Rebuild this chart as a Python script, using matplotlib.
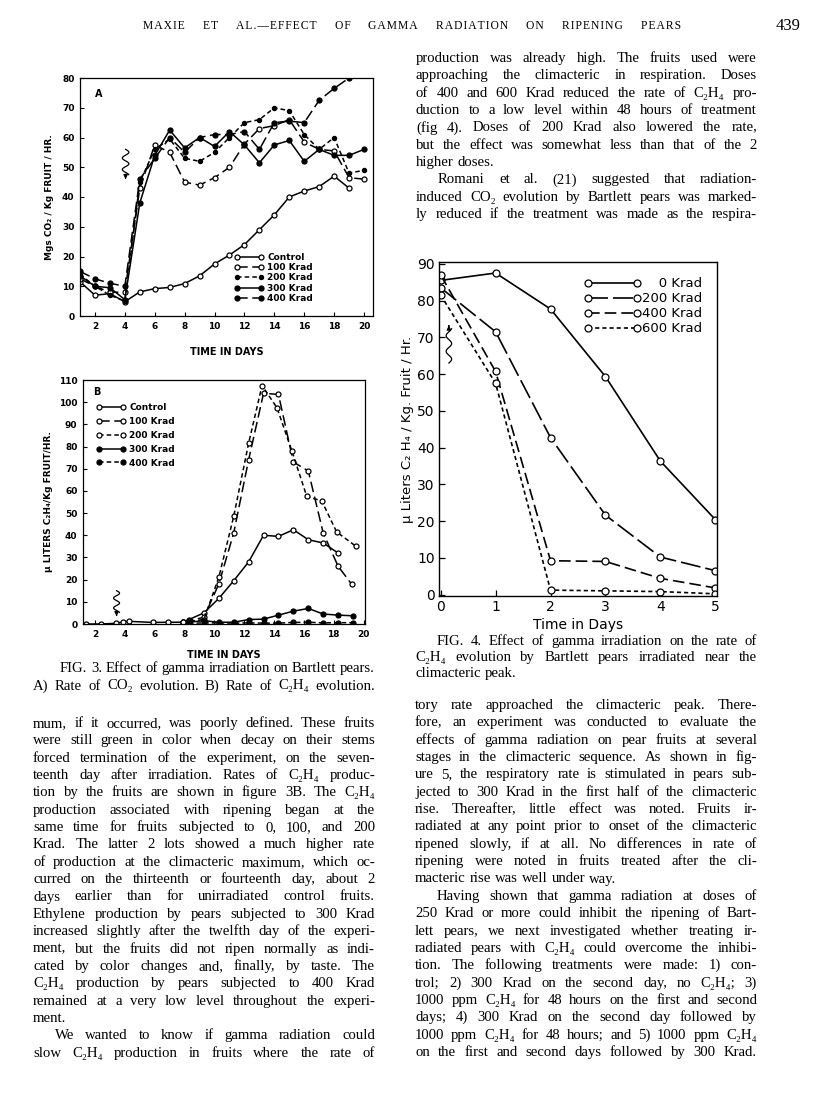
import numpy as np
import matplotlib
matplotlib.use('Agg')
import matplotlib.pyplot as plt

# ---- data ----
# Fig 3A: CO2 evolution, days 1..20
days_a = list(range(1, 21))
ctrl_a = [11.5, 7, 7.5, 4.8, 8.1, 9.2, 9.6, 10.9, 13.5, 17.5, 20.5, 24, 29, 34, 40, 42, 43.5, 47, 43]
k100_a = [12.5, 10, 8, 8, 43, 57.5, 55, 45, 44, 46.5, 50, 57.8, 63, 64, 66, 58.5, 56, 55.5, 46.5, 46]
k200_a = [14, 10, 7, 5, 45, 56, 59.5, 53, 52, 55, 60, 65, 66, 70, 69, 61, 56, 60, 48, 49]
k300_a = [13.5, 10, 9.5, 5.5, 38, 54, 62.5, 56.5, 60, 57, 62, 57.5, 51.5, 57.5, 59, 52, 56, 54, 54, 56]
k400_a = [15, 12.5, 11, 10, 46, 53, 60, 55, 60, 61, 61, 62, 56, 65, 65.5, 65, 72.5, 76.5, 80]

# Fig 3B: C2H4 evolution
days_ctrl_b = [1.4, 2.4, 3.4, 3.9, 4.3, 5.9, 6.9, 7.9, 8.3, 9.3, 10.3, 11.3, 12.3, 13.3, 14.3, 15.3, 16.3, 17.3, 18.3]
ctrl_b = [0, 0, 0.3, 1.0, 1.2, 0.7, 0.8, 0.8, 2.0, 5.0, 11.5, 19.5, 28, 40, 39.5, 42.5, 38, 36.5, 32]
days_100_b = [7.9, 8.3, 9.3, 10.3, 11.3, 12.3, 13.3, 14.3, 15.3, 16.3, 17.3, 18.3, 19.2]
k100_b = [0.8, 1.5, 3, 18, 41, 74, 104, 103.5, 73, 69, 41, 26, 18]
days_200_b = [7.9, 8.3, 9.3, 10.3, 11.3, 12.3, 13.2, 14.2, 15.2, 16.2, 17.2, 18.2, 19.5]
k200_b = [0.8, 1.2, 2, 21, 48.5, 81.5, 107.5, 97.5, 78, 57.5, 55.5, 41.5, 35]
days_hi_b = [8.3, 9.3, 10.3, 11.3, 12.3, 13.3, 14.3, 15.3, 16.3, 17.3, 18.3, 19.3]
k300_b = [0.8, 1.5, 0.8, 0.8, 2.0, 2.2, 4.0, 5.8, 7.0, 4.5, 4.0, 3.7]
k400_b = [0.3, 0.5, 0.5, 0.4, 0.5, 0.4, 0.4, 0.7, 0.8, 0.5, 0.6, 0.6]

# Fig 4
days_4 = [0, 1, 2, 3, 4, 5]
k0_4 = [85.5, 87.5, 77.7, 59.3, 36.3, 20.4]
k200_4 = [83.5, 71.5, 42.7, 21.6, 10.2, 6.5]
k400_4 = [87, 60.7, 9.2, 9.0, 4.4, 1.8]
k600_4 = [81.5, 57.5, 1.2, 1.0, 0.8, 0.2]

W, H = 816, 1109
fig = plt.figure(figsize=(W / 100, H / 100), dpi=100)
rend = fig.canvas.get_renderer()

SANS = ['DejaVu Sans']
SERIF = ['Liberation Serif', 'DejaVu Serif']
BODY = 10.6


def px_axes(x0, y0, x1, y1):
    return fig.add_axes([x0 / W, 1 - y1 / H, (x1 - x0) / W, (y1 - y0) / H])


def squiggle(ax, x0, y_start, y_end, amp):
    t = np.linspace(0, 1, 80)
    ys = y_start + (y_end - y_start) * t * 0.85
    xs = x0 + amp * np.sin(2 * np.pi * 2.2 * t)
    ax.plot(xs, ys, color='k', lw=0.9)
    ax.annotate('', xy=(x0, y_end), xytext=(x0, ys[-1]),
                arrowprops=dict(arrowstyle='-|>', color='k', lw=0.9, mutation_scale=6))


def series(ax, x, y, ls, filled, label, ms=3.6, lw=1.1):
    ax.plot(x, y, linestyle=ls, color='k', lw=lw, marker='o', ms=ms,
            mfc='k' if filled else 'white', mec='k', mew=0.9, label=label)


LONG = (0, (7, 3))
SHORT = (0, (3, 2))

# ---------------- Fig 3A ----------------
axA = px_axes(80, 78, 373, 316)
series(axA, days_a[:19], ctrl_a, '-', False, 'Control')
series(axA, days_a, k100_a, LONG, False, '100 Krad')
series(axA, days_a, k200_a, SHORT, True, '200 Krad', ms=3)
series(axA, days_a, k300_a, '-', True, '300 Krad')
series(axA, days_a[:19], k400_a, LONG, True, '400 Krad')
axA.set_xlim(1, 20.6)
axA.set_ylim(0, 80)
axA.set_xticks(range(2, 21, 2))
axA.set_yticks(range(0, 81, 10))
axA.text(0.05, 0.92, 'A', transform=axA.transAxes, fontsize=7, fontweight='bold', family=SANS)
squiggle(axA, 4.05, 56, 46, 0.22)
axA.set_xlabel('TIME IN DAYS', fontsize=7, fontweight='bold', family=SANS, labelpad=12)
axA.set_ylabel('Mgs CO₂ / Kg FRUIT / HR.', fontsize=6.5, fontweight='bold', family=SANS, labelpad=6)
axA.legend(loc='lower left', bbox_to_anchor=(0.5, 0.02), numpoints=2, frameon=False,
           handlelength=3.2, labelspacing=0.15, handletextpad=0.4,
           prop=dict(size=6.5, weight='bold', family=SANS))

# ---------------- Fig 3B ----------------
axB = px_axes(83, 380, 365, 624)
series(axB, days_ctrl_b, ctrl_b, '-', False, 'Control')
series(axB, days_100_b, k100_b, LONG, False, '100 Krad')
series(axB, days_200_b, k200_b, SHORT, False, '200 Krad')
series(axB, days_hi_b, k300_b, '-', True, '300 Krad')
series(axB, days_hi_b, k400_b, SHORT, True, '400 Krad')
axB.set_xlim(1.2, 20.1)
axB.set_ylim(0, 110)
axB.set_xticks(range(2, 21, 2))
axB.set_yticks(range(0, 111, 10))
axB.text(0.035, 0.94, 'B', transform=axB.transAxes, fontsize=7, fontweight='bold', family=SANS)
squiggle(axB, 3.45, 15, 3.5, 0.2)
axB.set_xlabel('TIME IN DAYS', fontsize=7, fontweight='bold', family=SANS, labelpad=8)
axB.set_ylabel('μ LITERS C₂H₄/Kg FRUIT/HR.', fontsize=6.5, fontweight='bold', family=SANS, labelpad=4)
axB.legend(loc='upper left', bbox_to_anchor=(0.02, 0.94), numpoints=2, frameon=False,
           handlelength=3.2, labelspacing=0.55, handletextpad=0.4,
           prop=dict(size=6.5, weight='bold', family=SANS))

for ax in (axA, axB):
    ax.tick_params(direction='in', length=3, width=0.8, labelsize=6.5, pad=4)
    for lab in ax.get_xticklabels() + ax.get_yticklabels():
        lab.set_fontweight('bold')
        lab.set_family(SANS)
    for sp in ax.spines.values():
        sp.set_linewidth(0.9)

# ---------------- Fig 4 ----------------
ax4 = px_axes(439, 262, 717, 596)
series(ax4, days_4, k0_4, '-', False, '\u2007\u20070 Krad', ms=5, lw=1.2)
series(ax4, days_4, k200_4, (0, (12, 3)), False, '200 Krad', ms=5, lw=1.2)
series(ax4, days_4, k400_4, (0, (7, 3)), False, '400 Krad', ms=5, lw=1.2)
series(ax4, days_4, k600_4, (0, (2.5, 1.8)), False, '600 Krad', ms=5, lw=1.2)
ax4.set_xlim(-0.03, 5.03)
ax4.set_ylim(-0.4, 90.5)
ax4.set_xticks(range(0, 6))
ax4.set_yticks(range(0, 91, 10))
ax4.tick_params(direction='in', length=4, width=0.9, labelsize=10, pad=3)
squiggle(ax4, 0.15, 63, 74, 0.05)
ax4.set_xlabel('Time in Days', fontsize=10, family=SANS, labelpad=3)
ax4.set_ylabel('μ Liters C₂ H₄ / Kg. Fruit / Hr.', fontsize=9.5, family=SANS, labelpad=2)
ax4.legend(loc='upper right', bbox_to_anchor=(0.99, 0.99), numpoints=2, frameon=False,
           handlelength=4.3, labelspacing=0.15, handletextpad=0.1,
           prop=dict(size=9.5, family=SANS))
for sp in ax4.spines.values():
    sp.set_linewidth(1.0)


# ---------------- page text ----------------
def text_line(s, x0, x1, y, justify=True, size=BODY):
    words = [w for w in s.split(' ') if w]
    objs = [fig.text(0, 0, w, fontsize=size, family=SERIF, va='baseline', ha='left') for w in words]
    widths = [o.get_window_extent(rend).width for o in objs]
    if justify and len(words) > 1:
        gap = max((x1 - x0 - sum(widths)) / (len(words) - 1), 1.5)
    else:
        gap = size * 100 / 72 * 0.27
    x = x0
    for o, w in zip(objs, widths):
        o.set_position((x / W, 1 - y / H))
        x += w + gap


def block(lines, x0, x1, y0, dy, size=BODY, indent=22):
    for i, s in enumerate(lines):
        ragged = s.endswith('|')
        s = s.rstrip('|')
        start = x0 + indent if s.startswith('>') else x0
        text_line(s.lstrip('>'), start, x1, y0 + i * dy, justify=not ragged, size=size)


header = 'MAXIE ET AL.—EFFECT OF GAMMA RADIATION ON RIPENING PEARS'
header = ' '.join('\u200a'.join(w) for w in header.split(' '))
text_line(header, 143, 681, 29, size=8.4)
fig.text(800 / W, 1 - 30 / H, '439', fontsize=12, family=SERIF, ha='right', va='baseline')

right_top = [
    'production was already high.  The fruits used were',
    'approaching the climacteric in respiration.  Doses',
    'of 400 and 600 Krad reduced the rate of C₂H₄ pro-',
    'duction to a low level within 48 hours of treatment',
    '(fig 4).  Doses of 200 Krad also lowered the rate,',
    'but the effect was somewhat less than that of the 2',
    'higher doses.|',
    '>Romani et al. (21) suggested that radiation-',
    'induced CO₂ evolution by Bartlett pears was marked-',
    'ly reduced if the treatment was made as the respira-',
]
block(right_top, 416, 757, 62, 17.35)

cap3 = [
    '>FIG. 3.  Effect of gamma irradiation on Bartlett pears.',
    'A)  Rate of CO₂ evolution.   B)  Rate of C₂H₄ evolution.',
]
block(cap3, 33, 375, 672, 17.5, indent=27)

cap4 = [
    '>FIG. 4.  Effect of gamma irradiation on the rate of',
    'C₂H₄ evolution by Bartlett pears irradiated near the',
    'climacteric peak.|',
]
block(cap4, 415, 757, 645, 16.0)

left_col = [
    'mum, if it occurred, was poorly defined.  These fruits',
    'were still green in color when decay on their stems',
    'forced termination of the experiment, on the seven-',
    'teenth day after irradiation.  Rates of C₂H₄ produc-',
    'tion by the fruits are shown in figure 3B.  The C₂H₄',
    'production associated with ripening began at the',
    'same time for fruits subjected to 0, 100, and 200',
    'Krad.  The latter 2 lots showed a much higher rate',
    'of production at the climacteric maximum, which oc-',
    'curred on the thirteenth or fourteenth day, about 2',
    'days earlier than for unirradiated control fruits.',
    'Ethylene production by pears subjected to 300 Krad',
    'increased slightly after the twelfth day of the experi-',
    'ment, but the fruits did not ripen normally as indi-',
    'cated by color changes and, finally, by taste.  The',
    'C₂H₄ production by pears subjected to 400 Krad',
    'remained at a very low level throughout the experi-',
    'ment.|',
    '>We wanted to know if gamma radiation could',
    'slow C₂H₄ production in fruits where the rate of',
]
block(left_col, 33, 375, 727, 17.35)

right_low = [
    'tory rate approached the climacteric peak.  There-',
    'fore, an experiment was conducted to evaluate the',
    'effects of gamma radiation on pear fruits at several',
    'stages in the climacteric sequence.  As shown in fig-',
    'ure 5, the respiratory rate is stimulated in pears sub-',
    'jected to 300 Krad in the first half of the climacteric',
    'rise.  Thereafter, little effect was noted.  Fruits ir-',
    'radiated at any point prior to onset of the climacteric',
    'ripened slowly, if at all.  No differences in rate of',
    'ripening were noted in fruits treated after the cli-',
    'macteric rise was well under way.|',
    '>Having shown that gamma radiation at doses of',
    '250 Krad or more could inhibit the ripening of Bart-',
    'lett pears, we next investigated whether treating ir-',
    'radiated pears with C₂H₄ could overcome the inhibi-',
    'tion.  The following treatments were made:  1)  con-',
    'trol;  2)  300 Krad on the second day, no C₂H₄;  3)',
    '1000 ppm C₂H₄ for 48 hours on the first and second',
    'days;  4)  300 Krad on the second day followed by',
    '1000 ppm C₂H₄ for 48 hours;  and 5)  1000 ppm C₂H₄',
    'on the first and second days followed by 300 Krad.',
]
block(right_low, 415, 757, 709, 17.35)

fig.savefig('out.png', dpi=100)
